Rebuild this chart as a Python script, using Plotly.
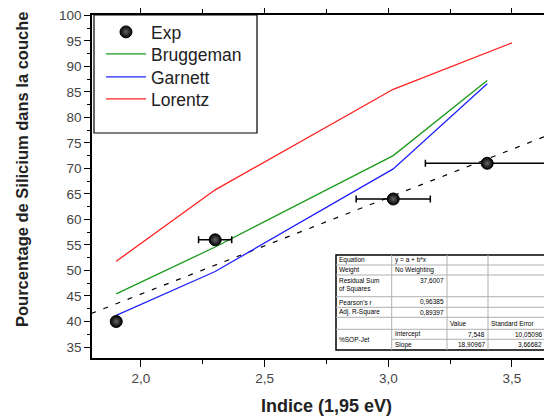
import plotly.graph_objects as go

# ---------------- data ----------------
exp_x = [1.90, 2.30, 3.02, 3.40]
exp_y = [40.0, 56.0, 64.0, 71.0]
exp_xerr = [0.0, 0.067, 0.15, 0.25]

brug_x = [1.90, 2.30, 3.02, 3.40]
brug_y = [45.4, 54.6, 72.5, 87.2]

garn_x = [1.90, 2.30, 3.02, 3.40]
garn_y = [41.2, 49.8, 69.9, 86.6]

lor_x = [1.90, 2.30, 3.02, 3.50]
lor_y = [51.8, 65.8, 85.5, 94.6]

fit_intercept = 7.548
fit_slope = 18.90967
fit_x = [1.75, 3.75]
fit_y = [fit_intercept + fit_slope * v for v in fit_x]

table_rows = [
    ["Equation", "y = a + b*x", "", ""],
    ["Weight", "No Weighting", "", ""],
    ["Residual Sum<br>of Squares", "37,6007", "", ""],
    ["Pearson's r", "0,96385", "", ""],
    ["Adj. R-Square", "0,89397", "", ""],
    ["", "", "Value", "Standard Error"],
    ["%SOP-Jet", "Intercept", "7,548", "10,05096"],
    ["", "Slope", "18,90967", "3,66682"],
]

# ---------------- layout geometry ----------------
# page body has an 8px margin, so the figure is drawn offset by 8px
OFF = 8
W, H = 552 - OFF, 419 - OFF
# plot area in screenshot pixel coordinates
SL, SR, ST, SB = 92, 552, 15, 358
PL, PR, PT, PB = SL - OFF, SR - OFF, ST - OFF, SB - OFF
PW, PH = PR - PL, PB - PT


def px(x):  # screenshot x -> paper
    return (x - OFF - PL) / PW


def py(y):  # screenshot y -> paper
    return (PB - (y - OFF)) / PH


FONT = "Liberation Sans, Arial, sans-serif"

fig = go.Figure()

fig.add_trace(go.Scatter(x=fit_x, y=fit_y, mode="lines", showlegend=False,
                         line=dict(color="black", width=1.2, dash="5px,8px")))
fig.add_trace(go.Scatter(x=brug_x, y=brug_y, mode="lines", name="Bruggeman", legend="legend2",
                         line=dict(color="#1a9a1a", width=1.3)))
fig.add_trace(go.Scatter(x=garn_x, y=garn_y, mode="lines", name="Garnett", legend="legend3",
                         line=dict(color="#2020ff", width=1.3)))
fig.add_trace(go.Scatter(x=lor_x, y=lor_y, mode="lines", name="Lorentz", legend="legend4",
                         line=dict(color="#ff2020", width=1.3)))
fig.add_trace(go.Scatter(
    x=exp_x, y=exp_y, mode="markers", name="Exp", legend="legend",
    marker=dict(color="black", size=12, line=dict(color="black", width=1),
                gradient=dict(type="radial", color="#666666")),
    error_x=dict(type="data", array=exp_xerr, color="black", thickness=1.5, width=3.5),
))

shapes = []
annotations = []

# legend box
shapes.append(dict(type="rect", xref="paper", yref="paper",
                   x0=px(94), x1=px(257), y0=py(133), y1=py(15),
                   line=dict(color="black", width=1.2), fillcolor="rgba(0,0,0,0)", layer="above"))

# ---------------- statistics table ----------------
cols = [336, 391.7, 447, 488, 545]
rows = [255, 265, 275, 296.7, 307.3, 317.3, 329.3, 339.3, 350]
shapes.append(dict(type="rect", xref="paper", yref="paper",
                   x0=px(cols[0]), x1=px(cols[-1]), y0=py(rows[-1]), y1=py(rows[0]),
                   line=dict(color="black", width=1.5), fillcolor="white", layer="above"))
for i in range(1, len(rows) - 1):
    x0 = cols[0]
    if i == 7:
        x0 = cols[1]
    shapes.append(dict(type="line", xref="paper", yref="paper",
                       x0=px(x0), x1=px(cols[-1]), y0=py(rows[i]), y1=py(rows[i]),
                       line=dict(color="#b0b0b0", width=1), layer="above"))
for j in range(1, len(cols) - 1):
    shapes.append(dict(type="line", xref="paper", yref="paper",
                       x0=px(cols[j]), x1=px(cols[j]), y0=py(rows[-1]), y1=py(rows[0]),
                       line=dict(color="#b0b0b0", width=1), layer="above"))

TFONT = dict(family=FONT, size=6.5, color="black")
for i, r in enumerate(table_rows):
    for j, txt in enumerate(r):
        if not txt:
            continue
        ytop, ybot = rows[i], rows[i + 1]
        if j == 0 and i == 6:
            ybot = rows[8]
        yc = (ytop + ybot) / 2
        yanchor = "middle"
        yy = yc
        if i == 2 and j == 0:
            yanchor = "top"
            yy = ytop + 1
        if i in (2, 3, 4) and j == 1:
            yanchor = "top"
            yy = ytop + 0.5
        if j == 0 or (i in (0, 1) and j == 1) or (i >= 6 and j == 1) or (i == 5):
            xx = cols[j] + 2
            xanchor = "left"
            align = "left"
        else:
            xx = cols[j + 1] - 2
            xanchor = "right"
            align = "right"
        annotations.append(dict(text=txt, xref="paper", yref="paper", x=px(xx), y=py(yy),
                                xanchor=xanchor, yanchor=yanchor, align=align,
                                showarrow=False, font=TFONT, borderpad=0))

# axis titles
annotations.append(dict(text="<b>Pourcentage de Silicium dans la couche</b>", xref="paper", yref="paper",
                        x=px(22), y=py(170), textangle=-90, showarrow=False,
                        xanchor="center", yanchor="middle",
                        font=dict(family=FONT, size=16.5, color="#222222")))
annotations.append(dict(text="<b>Indice (1,95 eV)</b>", xref="paper", yref="paper",
                        x=px(326), y=py(406), showarrow=False,
                        xanchor="center", yanchor="middle",
                        font=dict(family=FONT, size=18, color="#222222")))

LEGFONT = dict(family=FONT, size=17.5, color="#222222")


def leg(yc):
    return dict(x=px(101), y=py(yc), xanchor="left", yanchor="middle",
                bgcolor="rgba(0,0,0,0)", borderwidth=0, font=LEGFONT, itemwidth=40)


fig.update_layout(
    width=W, height=H, autosize=False,
    margin=dict(l=PL, r=W - PR, t=PT, b=H - PB, autoexpand=False),
    paper_bgcolor="white", plot_bgcolor="white",
    separators=", ",
    showlegend=True,
    legend=leg(32), legend2=leg(54), legend3=leg(77), legend4=leg(99),
    shapes=shapes,
    annotations=annotations,
    xaxis=dict(
        range=[1.802, 3.662], showgrid=False, zeroline=False, automargin=False,
        showline=True, linecolor="black", linewidth=1.5, mirror="ticks",
        ticks="outside", ticklen=7, tickwidth=1.2, tickcolor="black",
        tick0=0, dtick=0.5, tickformat=".1f", ticklabeloverflow="allow",
        minor=dict(ticks="outside", ticklen=4, dtick=0.25, tick0=0, tickcolor="black", tickwidth=1.2),
        tickfont=dict(family=FONT, size=13.5, color="#444444"),
    ),
    yaxis=dict(
        range=[32.85, 100.05], showgrid=False, zeroline=False, automargin=False,
        showline=True, linecolor="black", linewidth=1.5, mirror=False,
        ticks="outside", ticklen=6, tickwidth=1.2, tickcolor="black",
        tick0=0, dtick=5, ticklabeloverflow="allow",
        minor=dict(ticks="outside", ticklen=3, dtick=2.5, tick0=0, tickcolor="black", tickwidth=1.2),
        tickfont=dict(family=FONT, size=13.5, color="#444444"),
    ),
)

fig.write_html("out.html")
